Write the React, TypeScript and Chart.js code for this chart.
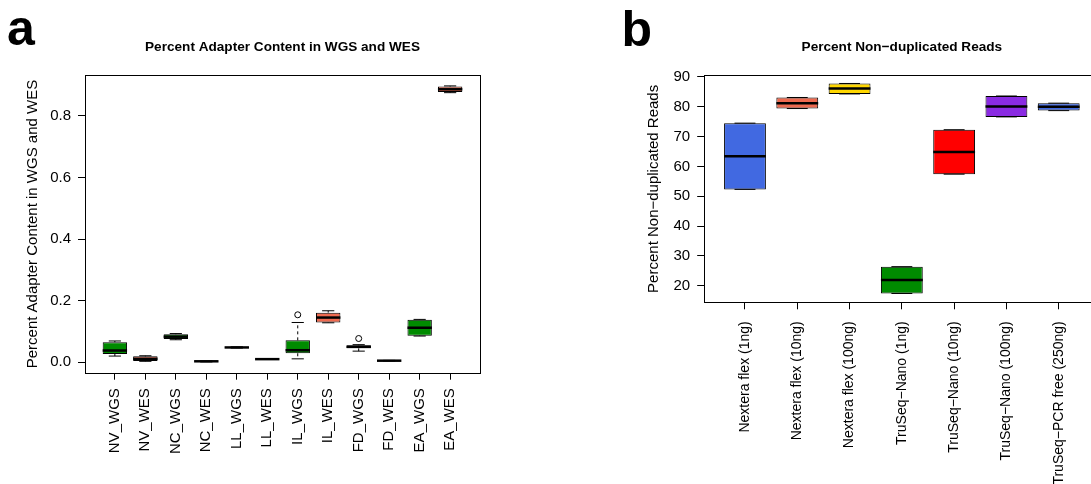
import React, { useEffect, useRef } from "react";
import { Chart, registerables } from "chart.js";

Chart.register(...registerables);

const FONT = "'Liberation Sans', Arial, Helvetica, sans-serif";
const GREEN = "#008B00";
const CORAL = "#EE6A50";

// ---------- Panel a: Percent Adapter Content in WGS and WES ----------
const aTitle = "Percent Adapter Content in WGS and WES";
const aYTitle = "Percent Adapter Content in WGS and WES";
const aCategories = ["NV_WGS", "NV_WES", "NC_WGS", "NC_WES", "LL_WGS", "LL_WES", "IL_WGS", "IL_WES", "FD_WGS", "FD_WES", "EA_WGS", "EA_WES"];
const aLow = [0.020, 0.003, 0.073, 0.001, 0.046, 0.009, 0.011, 0.128, 0.036, 0.004, 0.085, 0.875];
const aQ1 = [0.027, 0.004, 0.075, 0.002, 0.047, 0.0095, 0.029, 0.129, 0.045, 0.005, 0.086, 0.877];
const aMedian = [0.038, 0.011, 0.083, 0.003, 0.048, 0.010, 0.039, 0.145, 0.050, 0.005, 0.112, 0.886];
const aQ3 = [0.065, 0.019, 0.091, 0.004, 0.049, 0.011, 0.071, 0.161, 0.055, 0.006, 0.138, 0.895];
const aHigh = [0.069, 0.021, 0.093, 0.004, 0.050, 0.011, 0.129, 0.167, 0.057, 0.006, 0.139, 0.897];
const aColors = [GREEN, CORAL, GREEN, CORAL, GREEN, CORAL, GREEN, CORAL, GREEN, CORAL, GREEN, CORAL];
const aOutlierCategory = ["IL_WGS", "FD_WGS"];
const aOutlierValue = [0.154, 0.077];
const aYTicks = [0, 0.2, 0.4, 0.6, 0.8];

// ---------- Panel b: Percent Non-duplicated Reads ----------
const bTitle = "Percent Non\u2212duplicated Reads";
const bYTitle = "Percent Non\u2212duplicated Reads";
const bCategories = ["Nextera flex (1ng)", "Nextera flex (10ng)", "Nextera flex (100ng)", "TruSeq\u2212Nano (1ng)", "TruSeq\u2212Nano (10ng)", "TruSeq\u2212Nano (100ng)", "TruSeq\u2212PCR free (250ng)"];
const bLow = [52.3, 79.4, 84.3, 17.4, 57.4, 76.6, 78.7];
const bQ1 = [52.3, 79.4, 84.3, 17.4, 57.4, 76.6, 78.7];
const bMedian = [63.4, 81.2, 86.1, 21.9, 64.8, 80.1, 80.0];
const bQ3 = [74.5, 83.1, 87.8, 26.4, 72.3, 83.6, 81.2];
const bHigh = [74.5, 83.1, 87.8, 26.4, 72.3, 83.6, 81.2];
const bColors = ["#4169E1", CORAL, "#FFD700", GREEN, "#FF0000", "#8A2BE2", "#4169E1"];
const bYTicks = [20, 30, 40, 50, 60, 70, 80, 90];

const boxPlugin = {
  id: "boxExtras",
  beforeDraw(chart: any) {
    const { ctx, width, height } = chart;
    ctx.save();
    ctx.fillStyle = "#ffffff";
    ctx.fillRect(0, 0, width, height);
    ctx.restore();
  },
  afterDatasetsDraw(chart: any, _args: any, opts: any) {
    const { ctx, scales, chartArea } = chart;
    const y = scales.y;
    const meta = chart.getDatasetMeta(0);
    ctx.save();
    ctx.strokeStyle = "#000";
    opts.low.forEach((_: number, i: number) => {
      const bar = meta.data[i];
      const { x: cx, width: w } = bar.getProps(["x", "width"], true);
      const half = w / 2;
      const yLo = y.getPixelForValue(opts.low[i]);
      const yQ1 = y.getPixelForValue(opts.q1[i]);
      const yMed = y.getPixelForValue(opts.median[i]);
      const yQ3 = y.getPixelForValue(opts.q3[i]);
      const yHi = y.getPixelForValue(opts.high[i]);
      ctx.lineWidth = 1;
      ctx.setLineDash([3, 3]);
      ctx.beginPath();
      ctx.moveTo(cx, yQ3);
      ctx.lineTo(cx, yHi);
      ctx.moveTo(cx, yQ1);
      ctx.lineTo(cx, yLo);
      ctx.stroke();
      ctx.setLineDash([]);
      ctx.beginPath();
      ctx.moveTo(cx - half / 2, yHi);
      ctx.lineTo(cx + half / 2, yHi);
      ctx.moveTo(cx - half / 2, yLo);
      ctx.lineTo(cx + half / 2, yLo);
      ctx.stroke();
      ctx.lineWidth = 2.5;
      ctx.beginPath();
      ctx.moveTo(cx - half, yMed);
      ctx.lineTo(cx + half, yMed);
      ctx.stroke();
    });
    // frame
    ctx.lineWidth = 1;
    const l = Math.round(chartArea.left) + 0.5;
    const r = Math.round(chartArea.right) + 0.5;
    const t = Math.round(chartArea.top) + 0.5;
    const b = Math.round(chartArea.bottom) + 0.5;
    ctx.strokeRect(l, t, r - l, b - t);
    ctx.restore();
    // panel letter
    ctx.save();
    ctx.fillStyle = "#000";
    ctx.font = `bold 50px ${FONT}`;
    ctx.textBaseline = "alphabetic";
    ctx.fillText(opts.letter, opts.letterX, opts.letterY);
    ctx.restore();
  },
};

function makeConfig(p: {
  categories: string[];
  low: number[]; q1: number[]; median: number[]; q3: number[]; high: number[];
  colors: string[];
  outCats: string[]; outVals: number[];
  yTicks: number[]; yMin: number; yMax: number; yFmt: (v: number) => string;
  title: string; yTitle: string;
  yWidth: number; xHeight: number; padRight: number;
  yTitlePad: number; xLabelSize: number; xLabelPad: number;
  letter: string; letterX: number; letterY: number;
}) {
  const n = p.categories.length;
  // R-style axis: 0.5 .. n + 0.5, extended by 4% on each side
  const xMin = 0.5 - n * 0.04;
  const xMax = n + 0.5 + n * 0.04;
  return {
    type: "bar",
    data: {
      datasets: [
        {
          type: "bar",
          data: p.categories.map((_, i) => ({ x: i + 1, y: [p.q1[i], p.q3[i]] })),
          backgroundColor: p.colors,
          borderColor: "#000",
          borderWidth: 1,
          borderSkipped: false,
          categoryPercentage: 1,
          barPercentage: 0.8,
          order: 2,
        },
        {
          type: "scatter",
          data: p.outCats.map((c, i) => ({ x: p.categories.indexOf(c) + 1, y: p.outVals[i] })),
          pointStyle: "circle",
          pointRadius: 3,
          borderColor: "#000",
          backgroundColor: "rgba(0,0,0,0)",
          borderWidth: 1,
          order: 1,
        },
      ],
    },
    options: {
      responsive: false,
      animation: false,
      events: [],
      devicePixelRatio: 1,
      layout: { padding: { left: 0, right: p.padRight, top: 0, bottom: 0 } },
      plugins: {
        legend: { display: false },
        tooltip: { enabled: false },
        title: {
          display: true,
          text: p.title,
          fullSize: false,
          color: "#000",
          font: { family: FONT, size: 13.6, weight: "bold", lineHeight: 1.2 },
          padding: { top: 39.3, bottom: 19.8 },
        },
        boxExtras: {
          low: p.low, q1: p.q1, median: p.median, q3: p.q3, high: p.high,
          letter: p.letter, letterX: p.letterX, letterY: p.letterY,
        },
      },
      scales: {
        x: {
          type: "linear",
          offset: false,
          min: xMin,
          max: xMax,
          afterBuildTicks: (s: any) => {
            s.ticks = p.categories.map((_, i) => ({ value: i + 1 }));
          },
          afterFit: (s: any) => {
            s.height = p.xHeight;
          },
          grid: { offset: false, drawOnChartArea: false, drawTicks: true, tickLength: 7, color: "#000", lineWidth: 1 },
          border: { display: false },
          ticks: {
            autoSkip: false,
            minRotation: 90,
            maxRotation: 90,
            padding: p.xLabelPad,
            color: "#000",
            font: { family: FONT, size: p.xLabelSize },
            callback: (v: number) => p.categories[Math.round(v) - 1] ?? "",
          },
        },
        y: {
          type: "linear",
          min: p.yMin,
          max: p.yMax,
          afterBuildTicks: (s: any) => {
            s.ticks = p.yTicks.map((v) => ({ value: v }));
          },
          afterFit: (s: any) => {
            s.width = p.yWidth;
          },
          grid: { drawOnChartArea: false, drawTicks: true, tickLength: 7, color: "#000", lineWidth: 1 },
          border: { display: false },
          ticks: {
            padding: 7,
            color: "#000",
            font: { family: FONT, size: 15 },
            callback: (v: number) => p.yFmt(v),
          },
          title: {
            display: true,
            text: p.yTitle,
            color: "#000",
            font: { family: FONT, size: 15, lineHeight: 1.2 },
            padding: { top: p.yTitlePad, bottom: 0 },
          },
        },
      },
    },
    plugins: [boxPlugin],
  } as any;
}

export default function App() {
  const aRef = useRef<HTMLCanvasElement>(null);
  const bRef = useRef<HTMLCanvasElement>(null);

  useEffect(() => {
    const chartA = new Chart(
      aRef.current!,
      makeConfig({
        categories: aCategories,
        low: aLow, q1: aQ1, median: aMedian, q3: aQ3, high: aHigh,
        colors: aColors,
        outCats: aOutlierCategory, outVals: aOutlierValue,
        yTicks: aYTicks, yMin: -0.034, yMax: 0.931, yFmt: (v) => v.toFixed(1),
        title: aTitle, yTitle: aYTitle,
        yWidth: 85, xHeight: 484 - 372.7, padRight: 65,
        yTitlePad: 24, xLabelSize: 15, xLabelPad: 8.5,
        letter: "a", letterX: 7, letterY: 44.5,
      })
    );
    const chartB = new Chart(
      bRef.current!,
      makeConfig({
        categories: bCategories,
        low: bLow, q1: bQ1, median: bMedian, q3: bQ3, high: bHigh,
        colors: bColors,
        outCats: [], outVals: [],
        yTicks: bYTicks, yMin: 14.45, yMax: 90.5, yFmt: (v) => String(v),
        title: bTitle, yTitle: bYTitle,
        yWidth: 104.2, xHeight: 484 - 302.3, padRight: 5.5,
        yTitlePad: 45, xLabelSize: 14, xLabelPad: 12,
        letter: "b", letterX: 21.5, letterY: 46,
      })
    );
    return () => {
      chartA.destroy();
      chartB.destroy();
    };
  }, []);

  return (
    <div style={{ position: "absolute", left: 0, top: 0, width: 1091, height: 484, overflow: "hidden", background: "#fff" }}>
      <div style={{ position: "absolute", left: 0, top: 0, width: 545, height: 484 }}>
        <canvas ref={aRef} width={545} height={484} />
      </div>
      <div style={{ position: "absolute", left: 600, top: 0, width: 505, height: 484 }}>
        <canvas ref={bRef} width={505} height={484} />
      </div>
    </div>
  );
}
